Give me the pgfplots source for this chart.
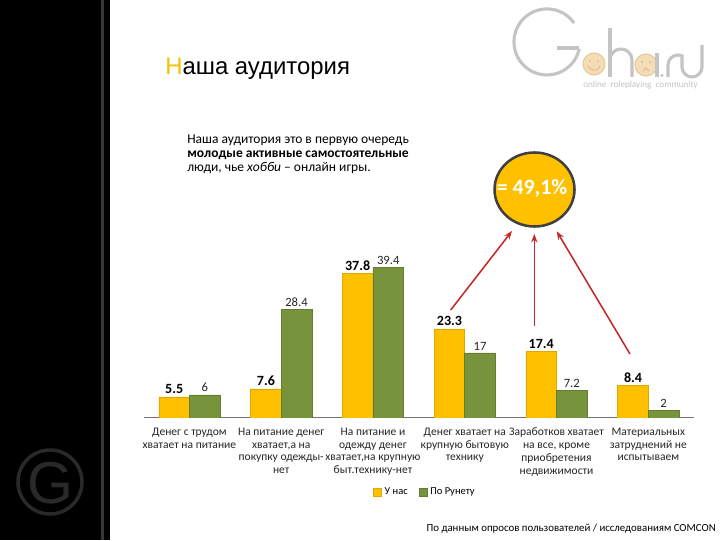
\documentclass[border=0pt]{standalone}
\usepackage{pgfplots}
\pgfplotsset{compat=1.18}
\usepackage{fontspec}
\setmainfont{Carlito}
\newfontfamily\arialfont{Liberation Sans}
\usetikzlibrary{arrows.meta}

\definecolor{ybar}{HTML}{FFC000}
\definecolor{gbar}{HTML}{77933C}
\definecolor{ttl}{HTML}{F2C100}
\definecolor{arr}{HTML}{C62828}
\definecolor{logo}{HTML}{C4C4C4}
\definecolor{smile}{HTML}{F4DDB5}

\pgfplotstableread{
idx us runet
0 5.5 6
1 7.6 28.4
2 37.8 39.4
3 23.3 17
4 17.4 7.2
5 8.4 2
}\survey

\begin{document}
\begin{tikzpicture}
% canvas, 1px = 0.025cm, y downward inside the scope
\begin{scope}[x=0.025cm, y=-0.025cm, yshift=13.5cm]
\fill[white] (0,0) rectangle (720,540);
\fill[black] (0,0) rectangle (110,540);
\fill[black!78] (101,0) rectangle (104,540);
\draw[black!84, line width=2.5] (50,482) circle (32);
\node[text=black!84, font=\arialfont\fontsize{42}{42}\selectfont] at (50,483) {G};

% title
\node[anchor=base west, font=\arialfont\fontsize{17}{17}\selectfont, inner sep=0]
  at (165,75) {\textcolor{ttl}{Н}аша аудитория};

% intro text
\node[anchor=north west, align=left, inner sep=0, font=\fontsize{9.6}{9.9}\selectfont]
  at (187,135) {Наша аудитория это в первую очередь\\
  \textbf{молодые активные самостоятельные}\\
  люди, чье \textit{хобби}~– онлайн игры.};

% logo (angles run clockwise on screen because y points down)
\begin{scope}[logo, line width=2.2]
\draw (574,23) arc[start angle=-35, end angle=-348, radius=33];
\draw (557,48) -- (579,48);
\draw (610,28) -- (610,77);
\draw (610,60) arc[start angle=180, end angle=360, radius=11] -- (632,77);
\draw (668,77) -- (668,65) arc[start angle=180, end angle=300, radius=10];
\draw (682,55) -- (682,67) arc[start angle=180, end angle=0, radius=10] -- (702,45);
\fill (662,75.5) circle (1.6);
\end{scope}
\filldraw[fill=smile, draw=smile!80!brown, line width=0.8] (594,64) circle (11);
\filldraw[fill=smile, draw=smile!80!brown, line width=0.8] (646,65) circle (11);
\draw[logo, line width=2.2] (657,53) -- (657,77);
\fill[brown!50] (590,61) circle (1.1) (598,61) circle (1.1) (642,62) circle (1.1) (650,62) circle (1.1);
\draw[brown!50, line width=0.8] (588,66) arc[start angle=160, end angle=20, radius=6.4];
\draw[brown!50, line width=0.8] (643,71) -- (646,68) -- (649,71);
\node[logo, font=\fontsize{6.5}{6.5}\selectfont, anchor=base west, inner sep=0] at (583,88)
  {online\ \ roleplaying\ \ community};

% circle and arrows
\filldraw[fill=ybar, draw=black!75, line width=1.8] (534.5,189.5) ellipse[x radius=40, y radius=37];
\node[white, font=\bfseries\fontsize{15.5}{15.5}\selectfont] at (532,188) {= 49,1\%};
\begin{scope}[arr, line width=1.1, -{Stealth[length=6, width=4.5]}]
\draw (450.7,310) -- (512,231);
\draw (534.3,326) -- (534.3,234);
\draw (630,354) -- (556.7,231.3);
\end{scope}

% source
\node[anchor=base east, inner sep=0, font=\fontsize{7.7}{7.7}\selectfont] at (716,531)
  {По данным опросов пользователей / исследованиям COMCON};
\end{scope}

\begin{axis}[
  at={(3.5875cm,3.0575cm)}, anchor=south west,
  scale only axis, width=13.7625cm, height=3.8175cm,
  xmin=-0.5, xmax=5.5, ymin=0, ymax=40,
  axis x line=bottom, axis y line=none,
  axis line style={black!55, line width=0.8pt, -},
  ybar, bar width=0.333,
  xtick={0,...,5}, major tick length=0,
  xticklabels={{Денег с трудом\\хватает на питание},
    {На питание денег\\хватает,а на\\покупку одежды-\\нет},
    {На питание и\\одежду денег\\хватает,на крупную\\быт.технику-нет},
    {Денег хватает на\\крупную бытовую\\технику},
    {Заработков хватает\\на все, кроме\\приобретения\\недвижимости},
    {Материальных\\затруднений не\\испытываем}},
  xticklabel style={font=\fontsize{8.2}{9.2}\selectfont, align=center, text=black!85, yshift=-3.5pt},
  nodes near coords,
  /pgf/number format/assume math mode=true,
  legend style={at={(0.512,-0.4866)}, anchor=center, draw=none, fill=none,
    legend columns=2, font=\fontsize{7.5}{7.5}\selectfont,
    /tikz/every even column/.append style={column sep=6pt}},
  legend image code/.code={\fill[#1] (0pt,-2.7pt) rectangle (5.6pt,2.9pt);},
]
\addplot[fill=ybar, draw=ybar!88!black, bar shift=-0.1667,
  every node near coord/.append style={font=\bfseries\fontsize{10}{10}\selectfont, black, yshift=-1.5pt}]
  table[x=idx, y=us] {\survey};
\addplot[fill=gbar, draw=gbar!85!black, bar shift=0.1667,
  every node near coord/.append style={font=\fontsize{9}{9}\selectfont, black!85, yshift=-1.5pt}]
  table[x=idx, y=runet] {\survey};
\legend{У нас, По Рунету}
\end{axis}
\end{tikzpicture}
\end{document}
